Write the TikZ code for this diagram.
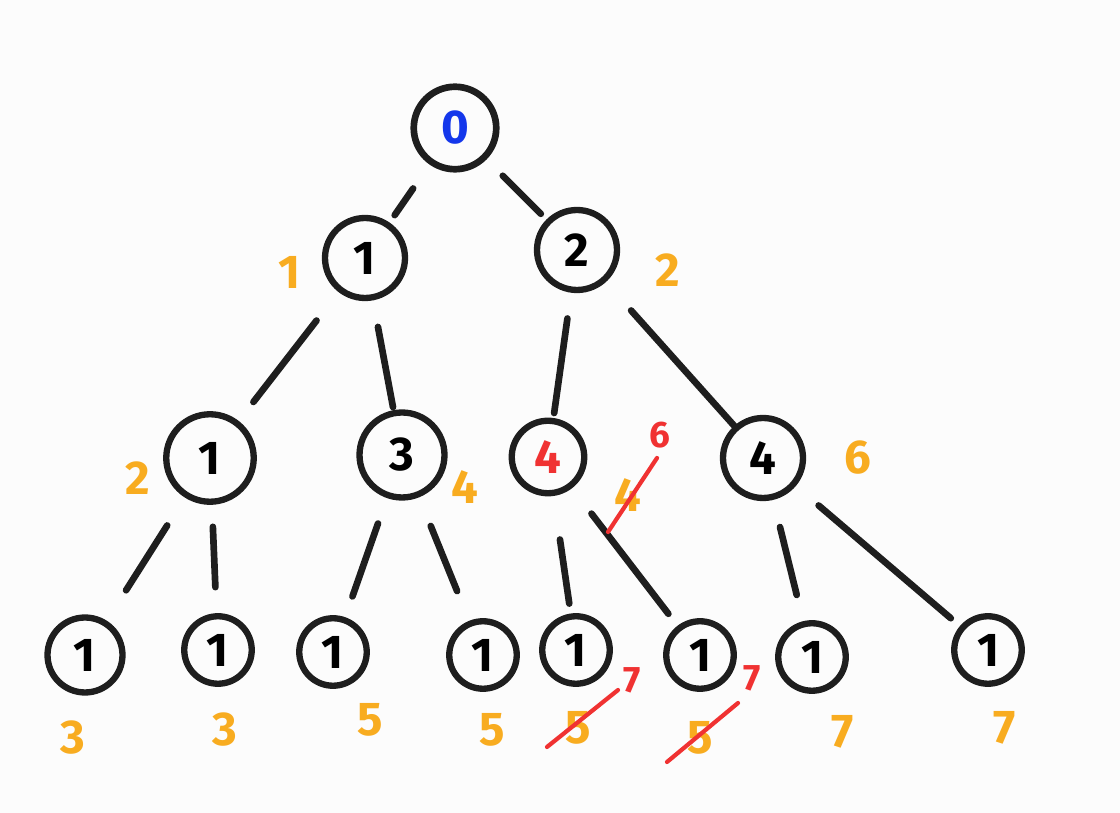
\documentclass[tikz,border=0pt]{standalone}
\usepackage{fontspec}
\setmainfont{Fira Sans}
\usepackage{xcolor}
\usepackage{tikz}
\usetikzlibrary{arrows.meta}
\definecolor{ink}{RGB}{30,30,30}
\definecolor{pen}{RGB}{20,55,235}
\definecolor{redpen}{RGB}{240,50,50}
\definecolor{sum}{RGB}{248,172,32}
\definecolor{paper}{RGB}{252,252,252}

\begin{document}
\begin{tikzpicture}[
  x=0.02cm, y=-0.02cm,
  every node/.style={font=\fontsize{27}{29}\selectfont\bfseries},
  top/.style={circle, draw=ink, line width=3.8pt, minimum size=1.65cm, inner sep=0},
  mid/.style={circle, draw=ink, line width=3.6pt, minimum size=1.6cm, inner sep=0},
  leaf/.style={circle, draw=ink, line width=3.6pt, minimum size=1.35cm, inner sep=0},
  edge/.style={ink, line width=3.8pt, line cap=round},
  cost/.style={text=sum, inner sep=0},
  fix/.style={text=redpen, inner sep=0, font=\fontsize{21}{23}\selectfont\bfseries},
  strike/.style={draw=redpen, line width=2.4pt, line cap=round},
]

\fill[paper] (0,0) rectangle (1120,813);
\useasboundingbox (0,0) rectangle (1120,813);

% Root
\node[top, text=pen] (r) at (455,128) {0};

% Level 1
\node[mid] (n1) at (365,258) {1};
\node[mid] (n2) at (577,250) {2};

% Level 2
\node[mid, minimum size=1.75cm] (a) at (210,458) {1};
\node[mid, minimum size=1.7cm] (b) at (402,455) {3};
\node[mid, minimum size=1.45cm, text=redpen] (c) at (548,457) {4};
\node[mid] (d) at (763,458) {4};

% Leaves
\node[leaf, minimum size=1.5cm] (l1) at (85,655) {1};
\node[leaf] (l2) at (218,650) {1};
\node[leaf] (l3) at (333,652) {1};
\node[leaf] (l4) at (483,655) {1};
\node[leaf] (l5) at (576,650) {1};
\node[leaf] (l6) at (700,655) {1};
\node[leaf] (l7) at (812,657) {1};
\node[leaf] (l8) at (988,650) {1};

% Edges
\draw[edge, shorten <=0.58cm, shorten >=0.18cm] (r) -- (n1);
\draw[edge, shorten <=0.46cm, shorten >=0.16cm] (r) -- (n2);
\draw[edge, shorten <=0.72cm, shorten >=0.48cm] (n1) -- (a);
\draw[edge, shorten <=0.54cm, shorten >=0.06cm] (n1) -- (b);
\draw[edge, shorten <=0.52cm, shorten >=0.1cm] (n2) -- (c);
\draw[edge, shorten <=0.76cm] (n2) -- (d);
\draw[edge, shorten <=0.66cm, shorten >=0.72cm] (a) -- (l1);
\draw[edge, shorten <=0.44cm, shorten >=0.52cm] (a) -- (l2);
\draw[edge, shorten <=0.54cm, shorten >=0.44cm] (b) -- (l3);
\draw[edge, shorten <=0.62cm, shorten >=0.64cm] (b) -- (l4);
\draw[edge, shorten <=0.88cm, shorten >=0.2cm] (c) -- (l5);
\draw[edge, shorten <=0.64cm, shorten >=0.3cm] (c) -- (l6);
\draw[edge, shorten <=0.56cm, shorten >=0.54cm] (d) -- (l7);
\draw[edge, shorten <=0.6cm, shorten >=0.24cm] (d) -- (l8);

% Path sums
\node[cost] (s1) at (290,272) {1};
\node[cost] (s2) at (668,270) {2};
\node[cost] (sa) at (138,478) {2};
\node[cost] (sb) at (465,487) {4};
\node[cost] (sc) at (628,495) {4};
\node[cost] (sd) at (858,458) {6};
\node[cost] (t1) at (73,738) {3};
\node[cost] (t2) at (225,730) {3};
\node[cost] (t3) at (370,720) {5};
\node[cost] (t4) at (492,730) {5};
\node[cost] (t5) at (578,728) {5};
\node[cost] (t6) at (700,738) {5};
\node[cost] (t7) at (843,732) {7};
\node[cost] (t8) at (1005,728) {7};

% Corrections
\node[fix] (fc) at (660,435) {6};
\node[fix] (f5) at (632,680) {7};
\node[fix] (f6) at (752,678) {7};
\draw[strike] (608,532) -- (657,458);
\draw[strike] (547,747) -- (618,690);
\draw[strike] (667,762) -- (738,703);

\end{tikzpicture}
\end{document}
